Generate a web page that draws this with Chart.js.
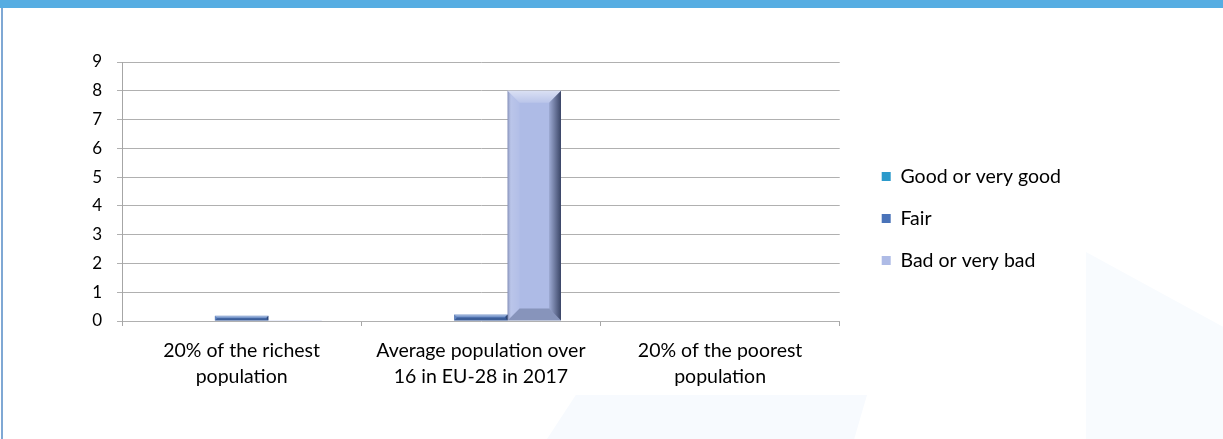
<!DOCTYPE html>
<html>
<head>
<meta charset="utf-8">
<script src="https://cdn.jsdelivr.net/npm/chart.js@4.4.1/dist/chart.umd.min.js"></script>
<style>
  html, body { margin: 0; padding: 0; background: #fff; }
  body { width: 1223px; height: 439px; position: relative; overflow: hidden; }
  .topbar { position: absolute; left: 0; top: 0; width: 1223px; height: 8px; background: #56ADE2; }
  .leftbar { position: absolute; left: 1px; top: 8px; width: 2px; height: 431px; background: #7FA8D4; }
  .haze1 { position: absolute; left: 547px; top: 395px; width: 320px; height: 44px; background: #F7FAFE;
           clip-path: polygon(9% 0, 100% 0, 96% 100%, 0 100%); }
  .haze2 { position: absolute; left: 1086px; top: 252px; width: 137px; height: 187px; background: #F8FBFE;
           clip-path: polygon(0 0, 100% 40%, 100% 100%, 0 100%); }
  #wrap { position: absolute; left: 4px; top: 8px; width: 1219px; height: 431px; }
</style>
</head>
<body>
<div class="topbar"></div>
<div class="leftbar"></div>
<div class="haze1"></div>
<div class="haze2"></div>
<div id="wrap"><canvas id="chart"></canvas></div>
<script>
// categories and series
const categories = [
    ["20% of the richest", "population"],
    ["Average population over", "16 in EU-28 in 2017"],
    ["20% of the poorest", "population"]
];
const seriesNames = ["Good or very good", "Fair", "Bad or very bad"];
const goodValues = [0, 0, 0];
const fairValues = [0.18, 0.23, 0];
const badValues = [0.03, 8, 0];
const yTicks = [0, 1, 2, 3, 4, 5, 6, 7, 8, 9];

const seriesColors = ["#2B9ACB", "#4A73B9", "#AEBBE6"];

// draws the bevelled edges on top of every bar
const bevelPlugin = {
    id: "bevel",
    afterDatasetsDraw(chart) {
        const ctx = chart.ctx;
        chart.data.datasets.forEach((ds, i) => {
            const meta = chart.getDatasetMeta(i);
            meta.data.forEach(bar => {
                const p = bar.getProps(["x", "y", "base", "width"], true);
                const h = p.base - p.y;
                if (h < 1) return;
                const l = p.x - p.width / 2, r = p.x + p.width / 2;
                const t = p.y, b = p.base;
                const s = Math.min(12, h / 2, p.width / 4);
                ctx.save();
                // top face
                let g = ctx.createLinearGradient(0, t, 0, t + s);
                g.addColorStop(0, "rgba(255,255,255,0.55)");
                g.addColorStop(1, "rgba(255,255,255,0.15)");
                ctx.fillStyle = g;
                ctx.beginPath();
                ctx.moveTo(l, t); ctx.lineTo(r, t); ctx.lineTo(r - s, t + s); ctx.lineTo(l + s, t + s);
                ctx.closePath(); ctx.fill();
                // left face
                g = ctx.createLinearGradient(l, 0, l + s, 0);
                g.addColorStop(0, "rgba(40,50,90,0.35)");
                g.addColorStop(0.3, "rgba(255,255,255,0.15)");
                g.addColorStop(1, "rgba(255,255,255,0.05)");
                ctx.fillStyle = g;
                ctx.beginPath();
                ctx.moveTo(l, t); ctx.lineTo(l + s, t + s); ctx.lineTo(l + s, b - s); ctx.lineTo(l, b);
                ctx.closePath(); ctx.fill();
                // right face
                g = ctx.createLinearGradient(r - s, 0, r, 0);
                g.addColorStop(0, "rgba(20,30,60,0.1)");
                g.addColorStop(1, "rgba(20,30,60,0.75)");
                ctx.fillStyle = g;
                ctx.beginPath();
                ctx.moveTo(r, t); ctx.lineTo(r, b); ctx.lineTo(r - s, b - s); ctx.lineTo(r - s, t + s);
                ctx.closePath(); ctx.fill();
                // bottom face
                ctx.fillStyle = "rgba(20,30,60,0.25)";
                ctx.beginPath();
                ctx.moveTo(l, b); ctx.lineTo(l + s, b - s); ctx.lineTo(r - s, b - s); ctx.lineTo(r, b);
                ctx.closePath(); ctx.fill();
                ctx.restore();
            });
        });
    }
};

const labelFont = { family: "Lato, 'Open Sans', sans-serif", size: 19.5 };

// empty spacer axes, only used to reserve room around the plot
const spacer = size => ({
    type: "linear",
    display: true,
    grid: { display: false },
    border: { display: false },
    ticks: { display: false },
    afterFit(scale) {
        if (scale.isHorizontal()) scale.height = size; else scale.width = size;
    }
});

new Chart(document.getElementById("chart"), {
    type: "bar",
    data: {
        labels: categories,
        datasets: [
            { label: seriesNames[0], data: goodValues, backgroundColor: seriesColors[0] },
            { label: seriesNames[1], data: fairValues, backgroundColor: seriesColors[1] },
            { label: seriesNames[2], data: badValues, backgroundColor: seriesColors[2] }
        ]
    },
    options: {
        responsive: true,
        maintainAspectRatio: false,
        animation: false,
        datasets: { bar: { categoryPercentage: 0.67, barPercentage: 1.0 } },
        layout: { padding: { top: 18, left: 0, right: 152, bottom: 28 } },
        plugins: {
            tooltip: { enabled: false },
            legend: {
                position: "right",
                align: "center",
                maxWidth: 400,
                labels: {
                    boxWidth: 9,
                    boxHeight: 9,
                    padding: 22.5,
                    color: "#000",
                    font: labelFont
                }
            }
        },
        scales: {
            x: {
                grid: { drawOnChartArea: false, drawTicks: true, tickLength: 5, color: "#A6A6A6", offset: true },
                border: { display: false },
                ticks: { color: "#000", font: { ...labelFont, lineHeight: 1.33 }, padding: 12, maxRotation: 0 },
                afterFit(scale) { scale.height = 90; }
            },
            y: {
                min: 0,
                max: 9,
                afterBuildTicks(scale) { scale.ticks = yTicks.map(v => ({ value: v })); },
                grid: { color: "#B0B0B0", tickLength: 5 },
                border: { color: "#A6A6A6" },
                ticks: { color: "#000", font: { family: labelFont.family, size: 17 }, padding: 15 },
                afterFit(scale) { scale.width = 118; }
            },
            gapRight: { ...spacer(19.5), position: "right" },
            gapTop: { ...spacer(36), position: "top" }
        }
    },
    plugins: [bevelPlugin]
});
</script>
</body>
</html>
